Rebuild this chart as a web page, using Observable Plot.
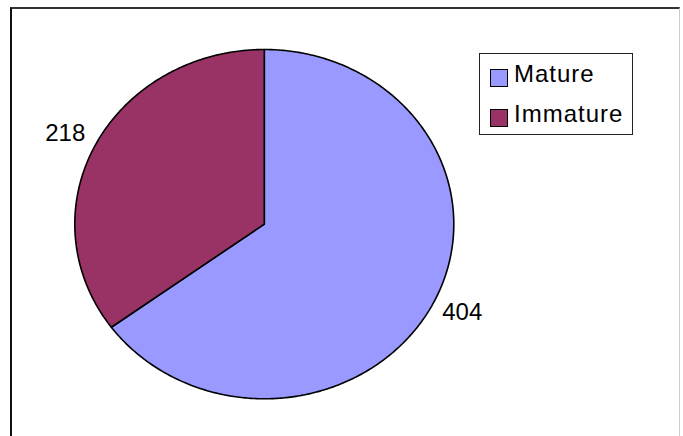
<!DOCTYPE html>
<html>
<head>
<meta charset="utf-8">
<script src="https://cdn.jsdelivr.net/npm/d3@7"></script>
<script src="https://cdn.jsdelivr.net/npm/@observablehq/plot@0.6"></script>
<style>
  html, body { margin: 0; padding: 0; background: #fff; }
  #wrap { position: relative; width: 683px; height: 436px; overflow: hidden; font-family: "Liberation Sans", Arial, sans-serif; }
  #frame { position: absolute; left: 10px; top: 7px; width: 670px; height: 440px;
           border-top: 2px solid #333; border-left: 2px solid #111; border-right: 1px solid #ccc; box-sizing: border-box; pointer-events: none; }
  #legend { position: absolute; left: 479px; top: 53px; width: 154px; height: 82px; box-sizing: border-box;
            border: 1px solid #222; background: #fff; }
  .item { position: absolute; left: 10px; height: 24px; }
  .sw { position: absolute; left: 0; width: 18px; height: 18px; box-sizing: border-box; border: 1px solid #000; }
  .lab { position: absolute; left: 24px; top: 0; font-size: 24px; line-height: 24px; letter-spacing: 1px; white-space: nowrap; color: #000; }
  #chart { position: absolute; left: 0; top: 0; }
</style>
</head>
<body>
<div id="wrap">
  <div id="chart"></div>
  <div id="frame"></div>
  <div id="legend"></div>
</div>
<script>
// Data
const categories = ["Mature", "Immature"];
const counts = [404, 218];
const colors = ["#9999FF", "#993366"];

// Pie geometry (Excel style: starts at 12 o'clock, clockwise)
const arcs = d3.pie().sort(null).value(d => d)(counts);
const slices = arcs.map((a, i) => {
  const n = Math.max(2, Math.ceil((a.endAngle - a.startAngle) / 0.01));
  const pts = [{x: 0, y: 0}];
  for (let k = 0; k <= n; k++) {
    const t = a.startAngle + (a.endAngle - a.startAngle) * k / n;
    pts.push({x: Math.sin(t), y: Math.cos(t)});
  }
  pts.push({x: 0, y: 0});
  const mid = (a.startAngle + a.endAngle) / 2;
  return {name: categories[i], value: counts[i], color: colors[i], pts, lx: Math.sin(mid), ly: Math.cos(mid)};
});

const marks = slices.map(s => Plot.line(s.pts, {x: "x", y: "y", fill: s.color, stroke: "#000", strokeWidth: 1.6, curve: "linear"}));
// value labels
marks.push(Plot.text([slices[0]], {x: "lx", y: "ly", text: d => String(d.value), textAnchor: "start", dx: 9, dy: 9,
  fontSize: 24, fill: "#000", fontFamily: "Liberation Sans, Arial, sans-serif", style: "letter-spacing:1px"}));
marks.push(Plot.text([slices[1]], {x: "lx", y: "ly", text: d => String(d.value), textAnchor: "end", dx: -10, dy: -12,
  fontSize: 24, fill: "#000", fontFamily: "Liberation Sans, Arial, sans-serif", style: "letter-spacing:1px"}));

const plot = Plot.plot({
  width: 683,
  height: 436,
  margin: 0,
  x: {domain: [-1, 1], range: [74.3, 453.3], axis: null},
  y: {domain: [-1, 1], range: [398.3, 49], axis: null},
  style: {background: "transparent", overflow: "visible"},
  marks
});
document.getElementById("chart").appendChild(plot);

// Legend
const legend = document.getElementById("legend");
const tops = [8, 48];
categories.forEach((c, i) => {
  const item = document.createElement("div");
  item.className = "item";
  item.style.top = tops[i] + "px";
  const sw = document.createElement("div");
  sw.className = "sw";
  sw.style.background = colors[i];
  sw.style.top = "7px";
  const lab = document.createElement("div");
  lab.className = "lab";
  lab.textContent = c;
  item.appendChild(sw);
  item.appendChild(lab);
  legend.appendChild(item);
});
</script>
</body>
</html>
